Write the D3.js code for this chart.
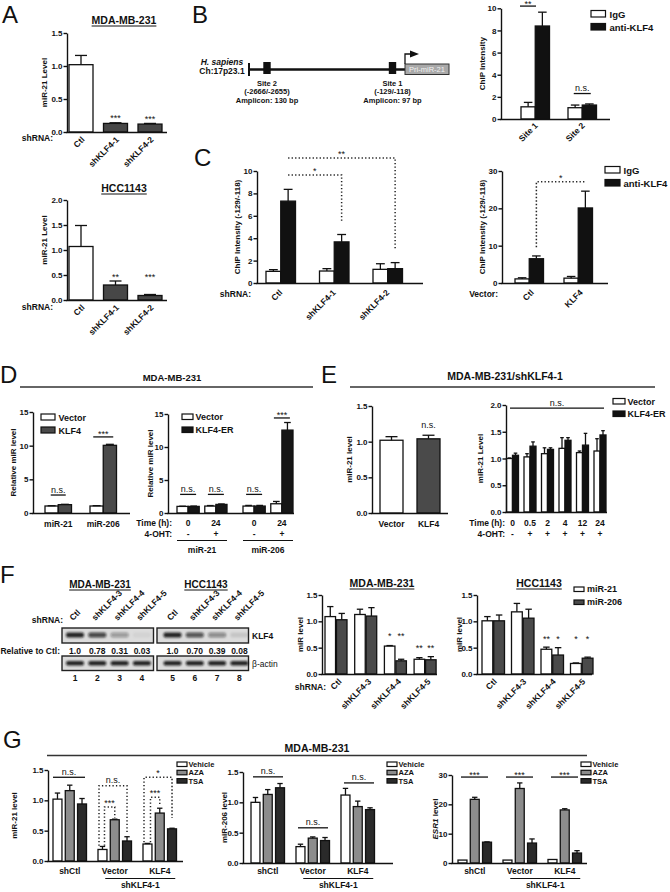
<!DOCTYPE html>
<html><head><meta charset="utf-8">
<script src="https://cdn.jsdelivr.net/npm/d3@7"></script>
<style>body{margin:0;background:#fff}</style>
</head><body>
<script>
// ================= DATA =================
// Panel A
const aCats = ["Ctl", "shKLF4-1", "shKLF4-2"];
const aMdaVals = [1.02, 0.13, 0.12];
const aMdaErrs = [0.14, 0.01, 0.01];
const aMdaSig = ["", "***", "***"];
const aMdaTicks = [0, 0.5, 1.0, 1.5];
const aHccVals = [1.07, 0.30, 0.09];
const aHccErrs = [0.42, 0.08, 0.02];
const aHccSig = ["", "**", "***"];
const aHccTicks = [0, 0.5, 1.0, 1.5, 2.0];
// Panel B
const bSites = ["Site 1", "Site 2"];
const bIgG = [1.1, 1.02];
const bIgGErr = [0.4, 0.24];
const bKLF4 = [8.4, 1.26];
const bKLF4Err = [1.25, 0.1];
const bSig = ["**", "n.s."];
const bTicks = [0, 2, 4, 6, 8, 10];
const chipLegend = ["IgG", "anti-KLF4"];
const bSiteNames = ["Site 2", "Site 1"];
const bSiteRanges = ["(-2666/-2655)", "(-129/-118)"];
const bAmplicons = ["Amplicon: 130 bp", "Amplicon: 97 bp"];
// Panel C
const cShRNA = ["Ctl", "shKLF4-1", "shKLF4-2"];
const cIgG = [1.04, 1.07, 1.22];
const cIgGErr = [0.15, 0.21, 0.5];
const cKLF4 = [7.31, 3.67, 1.28];
const cKLF4Err = [1.05, 0.66, 0.54];
const cTicks = [0, 2, 4, 6, 8, 10];
const cVec = ["Ctl", "KLF4"];
const cvIgG = [1.1, 1.3];
const cvIgGErr = [0.3, 0.45];
const cvKLF4 = [6.5, 20.1];
const cvKLF4Err = [0.75, 4.5];
const cvTicks = [0, 10, 20, 30];
// Panel D
const dMiR = ["miR-21", "miR-206"];
const dLegend = ["Vector", "KLF4"];
const dVector = [1.04, 1.04];
const dVectorErr = [0.04, 0.05];
const dKLF4 = [1.24, 10.05];
const dKLF4Err = [0.05, 0.15];
const dSig = ["n.s.", "***"];
const dTicks = [0, 5, 10, 15];
const d2Times = ["0", "24"];
const d2OHT = ["-", "+"];
const d2Legend = ["Vector", "KLF4-ER"];
const d2Vector = [1.0, 1.05, 1.05, 1.4];
const d2VectorErr = [0.03, 0.08, 0.1, 0.35];
const d2KLF4ER = [1.0, 1.3, 1.05, 12.56];
const d2KLF4ERErr = [0.05, 0.07, 0.1, 1.15];
const d2Sig = ["n.s.", "n.s.", "n.s.", "***"];
// Panel E
const eLabels = ["Vector", "KLF4"];
const eVals = [1.02, 1.04];
const eErrs = [0.05, 0.05];
const eTicks = [0, 0.5, 1.0, 1.5];
const e2Times = ["0", "0.5", "2", "4", "12", "24"];
const e2OHT = ["-", "+", "+", "+", "+", "+"];
const e2Vector = [1.0, 1.03, 1.09, 1.19, 1.11, 1.14];
const e2VectorErr = [0.01, 0.06, 0.11, 0.2, 0.03, 0.23];
const e2KLF4ER = [1.06, 1.23, 1.17, 1.34, 1.25, 1.44];
const e2KLF4ERErr = [0.04, 0.08, 0.03, 0.05, 0.22, 0.08];
const e2Ticks = [0, 0.5, 1.0, 1.5, 2.0];
// Panel F
const fLanes = ["Ctl", "shKLF4-3", "shKLF4-4", "shKLF4-5"];
const fCells = ["MDA-MB-231", "HCC1143"];
const fRelMda = [1.0, 0.78, 0.31, 0.03];
const fRelHcc = [1.0, 0.70, 0.39, 0.08];
const fRelLabelsMda = ["1.0", "0.78", "0.31", "0.03"];
const fRelLabelsHcc = ["1.0", "0.70", "0.39", "0.08"];
const fLaneNumsMda = ["1", "2", "3", "4"];
const fLaneNumsHcc = ["5", "6", "7", "8"];
const fMda21 = [1.09, 1.13, 0.53, 0.28];
const fMda21Err = [0.19, 0.10, 0.01, 0.03];
const fMda206 = [1.03, 1.10, 0.25, 0.27];
const fMda206Err = [0.12, 0.16, 0.03, 0.06];
const fMdaSig21 = ["", "", "*", "**"];
const fMdaSig206 = ["", "", "**", "**"];
const fHcc21 = [1.01, 1.18, 0.47, 0.20];
const fHcc21Err = [0.08, 0.16, 0.04, 0.01];
const fHcc206 = [1.01, 1.06, 0.36, 0.30];
const fHcc206Err = [0.11, 0.17, 0.14, 0.02];
const fHccSig21 = ["", "", "**", "*"];
const fHccSig206 = ["", "", "*", "*"];
const fTicks = [0, 0.5, 1.0, 1.5];
const fLegend = ["miR-21", "miR-206"];
// Panel G
const gGroups = ["shCtl", "Vector", "KLF4"];
const gTreat = ["Vehicle", "AZA", "TSA"];
const g21Vehicle = [1.02, 0.19, 0.28];
const g21VehicleErr = [0.10, 0.05, 0.01];
const g21AZA = [1.16, 0.68, 0.79];
const g21AZAErr = [0.09, 0.01, 0.08];
const g21TSA = [0.94, 0.33, 0.53];
const g21TSAErr = [0.09, 0.07, 0.01];
const g206Vehicle = [1.0, 0.27, 1.12];
const g206VehicleErr = [0.08, 0.04, 0.11];
const g206AZA = [1.13, 0.41, 0.93];
const g206AZAErr = [0.08, 0.02, 0.09];
const g206TSA = [1.24, 0.37, 0.88];
const g206TSAErr = [0.07, 0.05, 0.03];
const gEsrVehicle = [1.0, 1.0, 1.2];
const gEsrVehicleErr = [0, 0, 0];
const gEsrAZA = [21.7, 25.4, 18.1];
const gEsrAZAErr = [0.7, 1.9, 0.4];
const gEsrTSA = [7.1, 6.8, 3.4];
const gEsrTSAErr = [0.1, 1.4, 0.8];
const g21Ticks = [0, 0.5, 1.0, 1.5];
const gEsrTicks = [0, 10, 20, 30];

// ================= STYLE =================
const FONT = "'Liberation Sans', Arial, Helvetica, sans-serif";
const INK = "#111";
const WHITE = "#fff", DARK = "#474747", BLACK = "#111", MID = "#8c8c8c", DARKER = "#2a2a2a";

const svg = d3.select("body").append("svg").attr("width", 670).attr("height", 892)
  .style("background", "#fff").style("display", "block");
const defs = svg.append("defs");
defs.append("filter").attr("id", "blur").attr("x", "-50%").attr("y", "-150%")
  .attr("width", "200%").attr("height", "400%")
  .append("feGaussianBlur").attr("stdDeviation", 1.1);

function T(g, x, y, s, o = {}) {
  const t = g.append("text").attr("x", x).attr("y", y).text(s)
    .attr("font-family", FONT).attr("font-size", o.size || 8.5)
    .attr("font-weight", o.weight || "bold").attr("text-anchor", o.anchor || "middle")
    .attr("fill", o.fill || INK);
  if (o.italic) t.attr("font-style", "italic");
  if (o.rot !== undefined) t.attr("transform", `rotate(${o.rot},${x},${y})`);
  return t;
}
function L(g, x1, y1, x2, y2, o = {}) {
  return g.append("line").attr("x1", x1).attr("y1", y1).attr("x2", x2).attr("y2", y2)
    .attr("stroke", o.stroke || INK).attr("stroke-width", o.w || 1.3)
    .attr("stroke-dasharray", o.dash || null);
}
function titleU(g, x, y, s, size) {
  const t = T(g, x, y, s, { size: size });
  const w = t.node().getComputedTextLength();
  L(g, x - w / 2, y + 2, x + w / 2, y + 2, { w: 1 });
}
function bandFrom(domain, firstLeft, step, gw) {
  const pi = 1 - gw / step;
  return d3.scaleBand().domain(domain)
    .range([firstLeft, firstLeft + step * (domain.length - pi)])
    .paddingInner(pi).paddingOuter(0);
}
function barChart(c) {
  const g = svg.append("g");
  const y = d3.scaleLinear().domain([0, c.yMax]).range([c.y0, c.yTop]);
  const ns = c.series.length;
  const xs = d3.scaleBand().domain(d3.range(ns)).range([0, c.gw]).paddingInner(c.spi || 0);
  const bw = xs.bandwidth();
  const cx = (i, s) => c.xpos(i) + xs(s) + bw / 2;
  const gcx = i => c.xpos(i) + c.gw / 2;
  const all = [];
  c.series.forEach((s, si) => {
    s.vals.forEach((v, i) => all.push({ i, si, v, e: s.errs ? s.errs[i] : 0,
      fill: Array.isArray(s.fill) ? s.fill[i] : s.fill }));
  });
  g.append("g").selectAll("rect").data(all).join("rect")
    .attr("x", d => c.xpos(d.i) + xs(d.si)).attr("width", bw)
    .attr("y", d => y(d.v)).attr("height", d => c.y0 - y(d.v))
    .attr("fill", d => d.fill).attr("stroke", INK).attr("stroke-width", 1.3);
  const cap = Math.min(bw * 0.6, 12);
  const eg = g.append("g").attr("stroke", INK).attr("stroke-width", 1.3);
  all.filter(d => d.e > 0).forEach(d => {
    const x = cx(d.i, d.si);
    eg.append("line").attr("x1", x).attr("x2", x).attr("y1", y(d.v)).attr("y2", y(d.v + d.e));
    eg.append("line").attr("x1", x - cap / 2).attr("x2", x + cap / 2).attr("y1", y(d.v + d.e)).attr("y2", y(d.v + d.e));
  });
  const ax = g.append("g").attr("transform", `translate(${c.axisX},0)`)
    .call(d3.axisLeft(y).tickValues(c.ticks).tickFormat(c.fmt).tickSize(3.5).tickSizeOuter(0));
  ax.select(".domain").attr("stroke", INK).attr("stroke-width", 1.4);
  ax.selectAll(".tick line").attr("stroke", INK).attr("stroke-width", 1.4);
  ax.selectAll(".tick text").attr("font-size", 8).attr("font-weight", "bold")
    .attr("font-family", FONT).attr("fill", INK).attr("x", -4.5);
  L(g, c.axisX - 0.7, c.y0 + 0.5, c.xEnd, c.y0 + 0.5, { w: 1.4 });
  if (c.ytitle) {
    const ym = c.ytitleY !== undefined ? c.ytitleY : (c.y0 + c.yTop) / 2;
    const t = T(g, c.ytx, ym, "", { rot: -90, size: c.ytSize || 8 });
    if (Array.isArray(c.ytitle)) {
      c.ytitle.forEach(p => t.append("tspan").text(p.t).attr("font-style", p.it ? "italic" : null));
    } else t.text(c.ytitle);
  }
  return { g, y, cx, gcx, xpos: c.xpos, gw: c.gw, bw, y0: c.y0, xs };
}
function rotLabels(ch, labels, dx, dy, size) {
  labels.forEach((l, i) => {
    const x = ch.gcx(i) + dx, yy = ch.y0 + dy;
    ch.g.append("text").attr("transform", `translate(${x},${yy}) rotate(-45)`)
      .attr("text-anchor", "end").attr("dy", "0.35em").text(l)
      .attr("font-family", FONT).attr("font-size", size || 8.5).attr("font-weight", "bold").attr("fill", INK);
  });
}
function flatLabels(ch, labels, baseline, size) {
  labels.forEach((l, i) => T(ch.g, ch.gcx(i), baseline, l, { size: size || 8.5 }));
}
function sigLine(ch, x1, x2, v, label) {
  const yy = ch.y(v);
  L(ch.g, x1, yy, x2, yy, { w: 1.3 });
  const star = label.indexOf("*") >= 0;
  T(ch.g, (x1 + x2) / 2, star ? yy + 0.5 : yy - 2.5, label, { size: 9, weight: "normal" });
}
function sigText(ch, x, v, label) {
  T(ch.g, x, ch.y(v), label, { size: 9, weight: "normal" });
}
function bracket(ch, x1, x2, vTop, vL, vR, label) {
  const yt = ch.y(vTop);
  const p = d3.path();
  if (vL != null) { p.moveTo(x1, ch.y(vL)); p.lineTo(x1, yt); } else p.moveTo(x1, yt);
  p.lineTo(x2, yt);
  if (vR != null) p.lineTo(x2, ch.y(vR));
  ch.g.append("path").attr("d", p.toString()).attr("fill", "none").attr("stroke", "#222")
    .attr("stroke-width", 1.5).attr("stroke-dasharray", "1.3,2.2");
  if (label) {
    const star = label.indexOf("*") >= 0;
    T(ch.g, (x1 + x2) / 2, star ? yt - 1 : yt - 3, label, { size: 9, weight: "normal" });
  }
}
function legend(g, x, top, dy, w, h, items, fills, size, tx) {
  items.forEach((s, i) => {
    const yy = top + i * dy;
    g.append("rect").attr("x", x).attr("y", yy).attr("width", w).attr("height", h)
      .attr("fill", fills[i]).attr("stroke", INK).attr("stroke-width", 1.2);
    T(g, x + w + (tx || 4), yy + h + 0.5, s, { size: size, anchor: "start" });
  });
}
function letter(x, y, s) { T(svg, x, y, s, { size: 24, weight: "normal", anchor: "start" }); }

const f1 = d3.format(".1f"), f0 = d3.format("d");

// ================= PANEL A =================
letter(2, 23, "A");
titleU(svg, 124, 24, "MDA-MB-231", 10.5);
const xA = bandFrom(aCats, 69, 34.5, 24);
const A_FILL = [WHITE, DARK, DARK];
const chA1 = barChart({ xpos: i => xA(aCats[i]), gw: 24, series: [{ vals: aMdaVals, errs: aMdaErrs, fill: A_FILL }],
  yMax: 1.5, y0: 132, yTop: 33, ticks: aMdaTicks, fmt: f1, axisX: 67, xEnd: 167, ytitle: "miR-21 Level", ytx: 47 });
aMdaSig.forEach((s, i) => { if (s) sigText(chA1, chA1.gcx(i), aMdaVals[i] + aMdaErrs[i] + 0.02, s); });
rotLabels(chA1, aCats, 2, 6);
T(svg, 53, 141, "shRNA:", { anchor: "end" });

titleU(svg, 124, 192, "HCC1143", 10.5);
const chA2 = barChart({ xpos: i => xA(aCats[i]), gw: 24, series: [{ vals: aHccVals, errs: aHccErrs, fill: A_FILL }],
  yMax: 2, y0: 300, yTop: 200, ticks: aHccTicks, fmt: f1, axisX: 67, xEnd: 167, ytitle: "miR-21 Level", ytx: 47, ytitleY: 240 });
aHccSig.forEach((s, i) => { if (s) sigText(chA2, chA2.gcx(i), 0.41, s); });
rotLabels(chA2, aCats, 2, 6);
T(svg, 53, 310, "shRNA:", { anchor: "end" });

// ================= PANEL B =================
letter(192, 23, "B");
{
  const g = svg.append("g");
  T(g, 222, 65, "H. sapiens", { italic: true, size: 8.5 });
  T(g, 222, 74, "Ch:17p23.1", { size: 8.5 });
  L(g, 249, 63, 249, 76, { w: 2 });
  L(g, 249, 69.5, 405, 69.5, { w: 2.5 });
  const siteX = [267, 392.5];
  siteX.forEach((x, i) => {
    g.append("rect").attr("x", x - 3.7).attr("y", 62).attr("width", 7.4).attr("height", 12).attr("fill", INK);
    T(g, x, 85.5, bSiteNames[i], { size: 7.5 });
    T(g, x, 94.3, bSiteRanges[i], { size: 7.5 });
    T(g, x, 103.1, bAmplicons[i], { size: 7.5 });
  });
  g.append("rect").attr("x", 405).attr("y", 64).attr("width", 44).attr("height", 10.5)
    .attr("fill", "#a9a9a9").attr("stroke", "#333").attr("stroke-width", 1);
  T(g, 427, 72, "Pri-miR-21", { size: 7.5, weight: "normal", fill: "#f2f2f2" });
  g.append("path").attr("d", "M405,64 V54 H411").attr("fill", "none").attr("stroke", INK).attr("stroke-width", 1.3);
  g.append("path").attr("d", "M410,50.5 L419,54 L410,57.5 Z").attr("fill", INK);
}
const xB = bandFrom(bSites, 521, 47, 28.5);
const chB = barChart({ xpos: i => xB(bSites[i]), gw: 28.5,
  series: [{ vals: bIgG, errs: bIgGErr, fill: WHITE }, { vals: bKLF4, errs: bKLF4Err, fill: BLACK }],
  yMax: 10, y0: 119, yTop: 8.3, ticks: bTicks, fmt: f0, axisX: 501, xEnd: 610, ytitle: "ChIP Intensity", ytx: 485 });
sigLine(chB, xB(bSites[0]) - 1, xB(bSites[0]) + 15, 10.2, bSig[0]);
sigLine(chB, chB.gcx(1) - 8.5, chB.gcx(1) + 8.5, 2.3, bSig[1]);
rotLabels(chB, bSites, 1, 5);
legend(svg, 591, 10.5, 13, 14.5, 6.5, chipLegend, [WHITE, BLACK], 9.5, 4);

// ================= PANEL C =================
letter(194, 166, "C");
const xC = bandFrom(cShRNA, 266, 53.5, 29.5);
const chC = barChart({ xpos: i => xC(cShRNA[i]), gw: 29.5,
  series: [{ vals: cIgG, errs: cIgGErr, fill: WHITE }, { vals: cKLF4, errs: cKLF4Err, fill: BLACK }],
  yMax: 10, y0: 283, yTop: 171, ticks: cTicks, fmt: f0, axisX: 257, xEnd: 423,
  ytitle: "ChIP Intensity (-129/-118)", ytx: 240 });
bracket(chC, chC.cx(0, 1), chC.cx(1, 1), 9.65, null, 5.45, "*");
bracket(chC, chC.cx(0, 1), chC.cx(2, 1), 11.16, null, 3.04, "**");
rotLabels(chC, cShRNA, 0, 8);
T(svg, 251, 297, "shRNA:", { anchor: "end" });

const xC2 = bandFrom(cVec, 515, 49, 28.5);
const chC2 = barChart({ xpos: i => xC2(cVec[i]), gw: 28.5,
  series: [{ vals: cvIgG, errs: cvIgGErr, fill: WHITE }, { vals: cvKLF4, errs: cvKLF4Err, fill: BLACK }],
  yMax: 30, y0: 283, yTop: 171, ticks: cvTicks, fmt: f0, axisX: 502, xEnd: 608,
  ytitle: "ChIP Intensity (-129/-118)", ytx: 485 });
bracket(chC2, chC2.cx(0, 1), chC2.cx(1, 1), 27.1, 9.6, null, "*");
rotLabels(chC2, cVec, 3, 8);
T(svg, 498, 297, "Vector:", { anchor: "end" });
legend(svg, 605, 166.5, 13, 15, 6.5, chipLegend, [WHITE, BLACK], 9.5, 3.5);

// ================= PANEL D =================
letter(0, 383, "D");
T(svg, 172, 381, "MDA-MB-231", { size: 9.5 });
L(svg, 20, 387, 313, 387, { w: 1.5, stroke: "#333" });
const xD = bandFrom(dMiR, 45, 45, 26.5);
const chD = barChart({ xpos: i => xD(dMiR[i]), gw: 26.5,
  series: [{ vals: dVector, errs: dVectorErr, fill: WHITE }, { vals: dKLF4, errs: dKLF4Err, fill: "#4a4a4a" }],
  yMax: 15, y0: 513, yTop: 412, ticks: dTicks, fmt: f0, axisX: 33, xEnd: 130, ytitle: "Relative miR level", ytx: 16 });
sigLine(chD, chD.gcx(0) - 7.5, chD.gcx(0) + 7.5, 2.67, dSig[0]);
sigLine(chD, chD.gcx(1) - 10, chD.gcx(1) + 10, 11.3, dSig[1]);
flatLabels(chD, dMiR, 527);
legend(svg, 41, 414, 13, 14, 6, dLegend, [WHITE, "#4a4a4a"], 9, 3.5);

const xD2o = bandFrom(dMiR, 177, 66, 50);
const xD2i = d3.scaleBand().domain(d2Times).range([0, 50]).paddingInner(0.2);
const d2Keys = d3.cross(dMiR, d2Times);
const chD2 = barChart({ xpos: i => xD2o(d2Keys[i][0]) + xD2i(d2Keys[i][1]), gw: xD2i.bandwidth(),
  series: [{ vals: d2Vector, errs: d2VectorErr, fill: WHITE }, { vals: d2KLF4ER, errs: d2KLF4ERErr, fill: "#161616" }],
  yMax: 15, y0: 513, yTop: 414, ticks: dTicks, fmt: f0, axisX: 168, xEnd: 294, ytitle: "Relative miR level", ytx: 153 });
d2Sig.forEach((s, i) => sigLine(chD2, chD2.gcx(i) - 8, chD2.gcx(i) + 8, s === "***" ? 14.4 : 2.82, s));
T(svg, 172, 526, "Time (h):", { anchor: "end" });
T(svg, 172, 537, "4-OHT:", { anchor: "end" });
d2Keys.forEach((k, i) => {
  T(chD2.g, chD2.gcx(i), 526, k[1]);
  T(chD2.g, chD2.gcx(i), 537, d2OHT[d2Times.indexOf(k[1])]);
});
dMiR.forEach(m => {
  L(svg, xD2o(m), 540.5, xD2o(m) + xD2o.bandwidth(), 540.5, { w: 1.2 });
  T(svg, xD2o(m) + xD2o.bandwidth() / 2, 553, m);
});
legend(svg, 182, 414, 13, 11, 5.5, d2Legend, [WHITE, "#161616"], 9, 2.5);

// ================= PANEL E =================
letter(321, 383, "E");
T(svg, 505, 380, "MDA-MB-231/shKLF4-1", { size: 10.5 });
L(svg, 350, 387, 655, 387, { w: 1.5, stroke: "#333" });
const xE = bandFrom(eLabels, 380, 37, 23);
const chE = barChart({ xpos: i => xE(eLabels[i]), gw: 23,
  series: [{ vals: eVals, errs: eErrs, fill: [WHITE, "#4a4a4a"] }],
  yMax: 1.5, y0: 513, yTop: 406, ticks: eTicks, fmt: f1, axisX: 372, xEnd: 448, ytitle: "miR-21 level", ytx: 352 });
sigText(chE, chE.gcx(1), 1.19, "n.s.");
flatLabels(chE, eLabels, 527);

const xE2 = bandFrom(e2Times, 506.5, 17.5, 12);
const chE2 = barChart({ xpos: i => xE2(e2Times[i]), gw: 12,
  series: [{ vals: e2Vector, errs: e2VectorErr, fill: WHITE }, { vals: e2KLF4ER, errs: e2KLF4ERErr, fill: BLACK }],
  yMax: 2, y0: 512, yTop: 405, ticks: e2Ticks, fmt: f1, axisX: 506, xEnd: 607, ytitle: "miR-21 Level", ytx: 483 });
sigLine(chE2, 510, 604, 1.94, "n.s.");
T(svg, 505, 526, "Time (h):", { anchor: "end" });
T(svg, 505, 537, "4-OHT:", { anchor: "end" });
e2Times.forEach((t, i) => { T(chE2.g, chE2.gcx(i), 526, t); T(chE2.g, chE2.gcx(i), 537, e2OHT[i]); });
legend(svg, 613, 398.5, 12.5, 12, 5.5, d2Legend, [WHITE, BLACK], 9, 2.5);

// ================= PANEL F =================
letter(0, 583, "F");
{
  const g = svg.append("g");
  const boxes = [
    { left: 62, firstLane: 65, cell: fCells[0], rel: fRelMda, relL: fRelLabelsMda, nums: fLaneNumsMda, tx: 100 },
    { left: 157, firstLane: 162.5, cell: fCells[1], rel: fRelHcc, relL: fRelLabelsHcc, nums: fLaneNumsHcc, tx: 206 }
  ];
  boxes.forEach(b => {
    titleU(g, b.tx, 588, b.cell, 10);
    const xl = bandFrom(fLanes, b.firstLane, 22.3, 20);
    [[628, 15, b.rel, 632.5, 5], [656, 14.5, [1, 1, 1, 1], 661, 4.5]].forEach(([top, h, vals, by, bh]) => {
      g.append("rect").attr("x", b.left).attr("y", top).attr("width", 91.5).attr("height", h)
        .attr("fill", "#dcdcdc").attr("stroke", "#222").attr("stroke-width", 1.4);
      g.append("g").attr("filter", "url(#blur)").selectAll("rect").data(vals).join("rect")
        .attr("x", (d, i) => xl(fLanes[i]) + 1).attr("width", xl.bandwidth() - 2)
        .attr("y", by).attr("height", bh).attr("rx", 2)
        .attr("fill", "#111").attr("opacity", d => 0.9 * Math.pow(d, 0.85));
    });
    fLanes.forEach((l, i) => {
      const c = xl(l) + xl.bandwidth() / 2;
      g.append("text").attr("transform", `translate(${c - 2},${621}) rotate(-45)`).text(l)
        .attr("font-family", FONT).attr("font-size", 8.5).attr("font-weight", "bold").attr("fill", INK);
      T(g, c, 654, b.relL[i], { size: 8.5 });
      T(g, c, 681, b.nums[i], { size: 8.5 });
    });
  });
  T(g, 63, 623, "shRNA:", { anchor: "end" });
  T(g, 60, 654, "Relative to Ctl:", { anchor: "end" });
  T(g, 252, 639, "KLF4", { anchor: "start" });
  T(g, 252, 667, "β-actin", { anchor: "start", weight: "normal" });
}
const xF1 = bandFrom(fLanes, 325, 29.7, 22);
const chF1 = barChart({ xpos: i => xF1(fLanes[i]), gw: 22, spi: 0.08,
  series: [{ vals: fMda21, errs: fMda21Err, fill: WHITE }, { vals: fMda206, errs: fMda206Err, fill: "#4a4a4a" }],
  yMax: 1.5, y0: 674, yTop: 595, ticks: fTicks, fmt: f1, axisX: 322, xEnd: 437, ytitle: "miR level", ytx: 303 });
titleU(svg, 382, 587, fCells[0], 10.5);
fMdaSig21.forEach((s, i) => { if (s) sigText(chF1, chF1.cx(i, 0), i === 2 ? 0.66 : 0.44, s); });
fMdaSig206.forEach((s, i) => { if (s) sigText(chF1, chF1.cx(i, 1), i === 2 ? 0.66 : 0.44, s); });
rotLabels(chF1, fLanes, 4, 6);
T(svg, 326, 690, "shRNA:", { anchor: "end" });

const xF2 = bandFrom(fLanes, 482, 29.5, 22.5);
const chF2 = barChart({ xpos: i => xF2(fLanes[i]), gw: 22.5, spi: 0.08,
  series: [{ vals: fHcc21, errs: fHcc21Err, fill: WHITE }, { vals: fHcc206, errs: fHcc206Err, fill: "#4a4a4a" }],
  yMax: 1.5, y0: 674, yTop: 595, ticks: fTicks, fmt: f1, axisX: 477, xEnd: 592, ytitle: "miR level", ytx: 462 });
titleU(svg, 539, 587, fCells[1], 10.5);
fHccSig21.forEach((s, i) => { if (s) sigText(chF2, chF2.cx(i, 0), 0.61, s); });
fHccSig206.forEach((s, i) => { if (s) sigText(chF2, chF2.cx(i, 1), 0.61, s); });
rotLabels(chF2, fLanes, 2, 6);
legend(svg, 574, 587, 13, 10, 4.5, fLegend, [WHITE, "#4a4a4a"], 9, 3);

// ================= PANEL G =================
letter(3, 748, "G");
T(svg, 317, 752, "MDA-MB-231", { size: 10.5 });
L(svg, 47, 755.5, 587, 755.5, { w: 1.5, stroke: "#333" });
const G_FILL = [WHITE, MID, DARKER];
function gChart(first, axisX, xEnd, y0, yTop, yMax, ticks, fmt, vals, errs, ytitle, ytx) {
  const xg = bandFrom(gGroups, first, 45, 33.5);
  const ch = barChart({ xpos: i => xg(gGroups[i]), gw: 33.5, spi: 0.27,
    series: vals.map((v, k) => ({ vals: v, errs: errs[k], fill: G_FILL[k] })),
    yMax, y0, yTop, ticks, fmt, axisX, xEnd, ytitle, ytx });
  flatLabels(ch, gGroups, 874);
  const mid = (ch.gcx(1) + ch.gcx(2)) / 2 + 3;
  L(ch.g, mid - 35, 878.5, mid + 35, 878.5, { w: 1.2 });
  T(ch.g, mid, 888, "shKLF4-1");
  legend(svg, xEnd - 6, 762, 8.3, 10, 4.5, gTreat, G_FILL, 7.5, 1.5);
  return ch;
}
const chG1 = gChart(53, 48, 183, 861, 770, 1.5, g21Ticks, f1,
  [g21Vehicle, g21AZA, g21TSA], [g21VehicleErr, g21AZAErr, g21TSAErr], "miR-21 level", 17);
sigLine(chG1, chG1.xpos(0), chG1.xpos(0) + 32, 1.38, "n.s.");
bracket(chG1, chG1.xpos(1) + 1, chG1.cx(1, 2), 1.24, 0.25, 0.48, "n.s.");
bracket(chG1, chG1.cx(1, 0) + 2, chG1.cx(1, 1), 0.89, 0.25, 0.71, "***");
bracket(chG1, chG1.xpos(2) + 1, chG1.cx(2, 2), 1.38, 0.31, 0.71, "*");
bracket(chG1, chG1.cx(2, 0) + 3, chG1.cx(2, 1), 1.05, 0.31, 0.93, "***");

const chG2 = gChart(251, 243, 393, 863, 772, 1.5, g21Ticks, f1,
  [g206Vehicle, g206AZA, g206TSA], [g206VehicleErr, g206AZAErr, g206TSAErr], "miR-206 level", 227);
sigLine(chG2, chG2.xpos(0) + 2, chG2.xpos(0) + 32, 1.42, "n.s.");
sigLine(chG2, chG2.xpos(1) + 2, chG2.xpos(1) + 32, 0.58, "n.s.");
sigLine(chG2, chG2.xpos(2) + 3, chG2.xpos(2) + 33, 1.32, "n.s.");

const chG3 = gChart(458, 452, 587, 863, 775, 30, gEsrTicks, f0,
  [gEsrVehicle, gEsrAZA, gEsrTSA], [gEsrVehicleErr, gEsrAZAErr, gEsrTSAErr],
  [{ t: "ESR1", it: true }, { t: " level" }], 438);
gGroups.forEach((gr, i) => sigLine(chG3, chG3.xpos(i) + 3, chG3.xpos(i) + 30, 29.3, "***"));
</script>
</body></html>
